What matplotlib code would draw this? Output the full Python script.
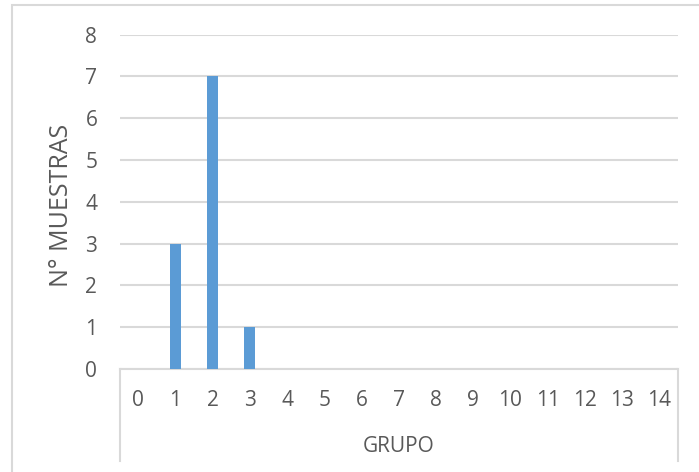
import numpy as np
import matplotlib.pyplot as plt
from matplotlib.patches import Rectangle

# data
grupos = [str(g) for g in range(15)]
muestras = [0, 3, 7, 1, 0, 0, 0, 0, 0, 0, 0, 0, 0, 0, 0]
y_ticks = list(range(0, 9))

BAR_COLOR = "#5B9BD5"
GRID_COLOR = "#D9D9D9"
TEXT_COLOR = "#595959"

plt.rcParams["font.family"] = ["Open Sans", "DejaVu Sans"]

W, H = 699, 472
fig = plt.figure(figsize=(W / 100, H / 100), dpi=100)

# plot area (pixel bounds)
left, right, top, bottom = 119.5, 678, 34.7, 369
ax = fig.add_axes([left / W, 1 - bottom / H, (right - left) / W, (bottom - top) / H])

x = np.arange(len(grupos))
ax.bar(x, muestras, width=0.3, color=BAR_COLOR, zorder=3)

ax.set_xlim(-0.5, len(grupos) - 0.5)
ax.set_ylim(0, 8)
ax.set_yticks(y_ticks)
ax.set_xticks(x)
ax.set_xticklabels(grupos)
ax.yaxis.grid(True, color=GRID_COLOR, linewidth=1.5, zorder=0)
ax.tick_params(axis="both", length=0, labelsize=15, colors=TEXT_COLOR)
ax.tick_params(axis="x", pad=15)
ax.tick_params(axis="y", pad=16)
for s in ["top", "right", "left"]:
    ax.spines[s].set_visible(False)
ax.spines["bottom"].set_color(GRID_COLOR)
ax.spines["bottom"].set_linewidth(1.5)

# category box below the axis (Excel multi-level style)
box_depth = (461 - bottom) / (bottom - top)
for xe in [0, 1]:
    ax.plot([xe, xe], [0, -box_depth], transform=ax.transAxes, color=GRID_COLOR,
            linewidth=1.5, clip_on=False)
ax.text(0.5, -(447 - bottom) / (bottom - top), "GRUPO", transform=ax.transAxes,
        ha="center", va="center", fontsize=15, color=TEXT_COLOR)

ax.set_ylabel("N° MUESTRAS", fontsize=18, color=TEXT_COLOR, va="center")
ax.yaxis.set_label_coords((62 - left) / (right - left), (bottom - 205) / (bottom - top))

# outer chart border
fig.patches.append(Rectangle((11.5 / W, -0.05), 1.1, 1 - 5.3 / H + 0.05,
                             transform=fig.transFigure, fill=False,
                             edgecolor=GRID_COLOR, linewidth=1.5))

fig.savefig("out.png", dpi=100)
